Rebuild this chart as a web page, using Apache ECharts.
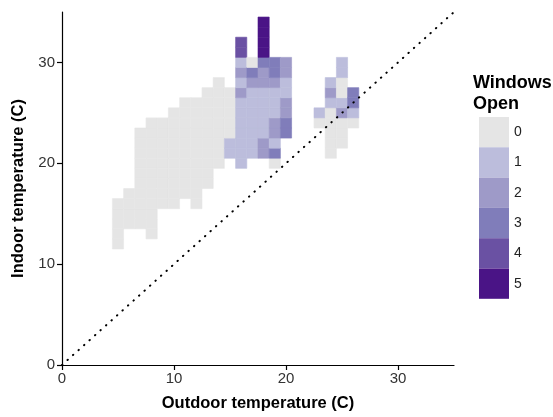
<!DOCTYPE html>
<html>
<head>
<meta charset="utf-8">
<script src="https://cdn.jsdelivr.net/npm/echarts@6/dist/echarts.min.js"></script>
<style>
  html, body { margin: 0; padding: 0; background: #fff; }
  #chart { width: 553px; height: 417px; }
</style>
</head>
<body>
<div id="chart"></div>
<script>
// outdoor temperature of each column of cells (C)
var outdoorTemps = [5, 6, 7, 8, 9, 10, 11, 12, 13, 14, 15, 16, 17, 18, 19, 20, 23, 24, 25, 26];
// indoor temperature of the lowest cell in each column (C)
var indoorStart = [12, 14, 14, 13, 16, 16, 17, 16, 18, 20, 21, 20, 21, 21, 20, 23, 24, 21, 22, 24];
// windows open, per column, from the lowest cell upwards
var windowsOpen = [
  [0, 0, 0, 0, 0],
  [0, 0, 0, 0],
  [0, 0, 0, 0, 0, 0, 0, 0, 0, 0],
  [0, 0, 0, 0, 0, 0, 0, 0, 0, 0, 0, 0],
  [0, 0, 0, 0, 0, 0, 0, 0, 0],
  [0, 0, 0, 0, 0, 0, 0, 0, 0, 0],
  [0, 0, 0, 0, 0, 0, 0, 0, 0, 0],
  [0, 0, 0, 0, 0, 0, 0, 0, 0, 0, 0],
  [0, 0, 0, 0, 0, 0, 0, 0, 0, 0],
  [0, 0, 0, 0, 0, 0, 0, 0, 0],
  [1, 1, 0, 0, 0, 0, 0],
  [1, 1, 1, 1, 1, 1, 1, 2, 1, 2, 1, 4, 4],
  [1, 1, 1, 1, 1, 1, 1, 2, 3, 0],
  [2, 2, 1, 1, 1, 1, 1, 2, 2, 3, 5, 5, 5, 5],
  [0, 3, 1, 2, 2, 1, 1, 1, 2, 3, 3],
  [3, 3, 2, 2, 1, 1, 2, 2],
  [0, 1],
  [0, 0, 0, 0, 0, 1, 2, 1],
  [0, 0, 0, 2, 1, 0, 0, 1, 1],
  [0, 1, 3, 3]
];
var levels = [0, 1, 2, 3, 4, 5];
var levelColors = ["#e5e5e5", "#bcbddc", "#9e9ac8", "#807dba", "#6a51a3", "#4a1486"];

var cells = [];
outdoorTemps.forEach(function(x, i) {
  windowsOpen[i].forEach(function(v, k) {
    cells.push([x, indoorStart[i] + k, v]);
  });
});

var font = "Liberation Sans";
var chart = echarts.init(document.getElementById("chart"), null, { renderer: "canvas" });

chart.setOption({
  animation: false,
  textStyle: { fontFamily: font },
  title: {
    text: "Windows\nOpen",
    left: 473,
    top: 73,
    padding: 0,
    textStyle: { fontFamily: font, fontSize: 18, fontWeight: "bold", color: "#000", lineHeight: 21 }
  },
  grid: { left: 62, top: 12, width: 392, height: 354, containLabel: false },
  xAxis: {
    type: "value",
    min: 0,
    max: 35,
    interval: 10,
    name: "Outdoor temperature (C)",
    nameLocation: "middle",
    nameGap: 30,
    nameTextStyle: { fontSize: 16.5, fontWeight: "bold", color: "#000" },
    axisLine: { lineStyle: { color: "#000", width: 1.2 } },
    axisTick: { length: 5, lineStyle: { color: "#000", width: 1.2 } },
    axisLabel: { fontSize: 15, color: "#333", margin: 6, showMaxLabel: false },
    splitLine: { show: false }
  },
  yAxis: {
    type: "value",
    min: 0,
    max: 35,
    interval: 10,
    name: "Indoor temperature (C)",
    nameLocation: "middle",
    nameGap: 29,
    nameTextStyle: { fontSize: 16.5, fontWeight: "bold", color: "#000" },
    axisLine: { lineStyle: { color: "#000", width: 1.2 } },
    axisTick: { length: 5, lineStyle: { color: "#000", width: 1.2 } },
    axisLabel: { fontSize: 15, color: "#333", margin: 7, showMaxLabel: false },
    splitLine: { show: false }
  },
  visualMap: {
    type: "piecewise",
    seriesIndex: 0,
    dimension: 2,
    orient: "vertical",
    inverse: true,
    align: "left",
    left: 479,
    top: 117,
    padding: 0,
    itemWidth: 30,
    itemHeight: 30.3,
    itemGap: 0,
    itemSymbol: "rect",
    textGap: 5,
    selectedMode: false,
    hoverLink: false,
    textStyle: { fontSize: 14, color: "#222", fontFamily: font },
    pieces: levels.map(function(v, i) {
      return { value: v, label: String(v), color: levelColors[i] };
    })
  },
  series: [
    {
      type: "custom",
      data: cells,
      encode: { x: 0, y: 1 },
      renderItem: function(params, api) {
        var x = api.value(0), y = api.value(1);
        var p1 = api.coord([x - 0.5, y + 0.5]);
        var p2 = api.coord([x + 0.5, y - 0.5]);
        var c = api.visual("color");
        return {
          type: "rect",
          shape: { x: p1[0], y: p1[1], width: p2[0] - p1[0], height: p2[1] - p1[1] },
          style: { fill: c, stroke: c, lineWidth: 0.6 }
        };
      }
    },
    {
      type: "line",
      data: [[0, 0], [35, 35]],
      symbol: "none",
      silent: true,
      lineStyle: { color: "#000", width: 2, type: [0.4, 7], cap: "round" },
      z: 5
    }
  ]
});
</script>
</body>
</html>
